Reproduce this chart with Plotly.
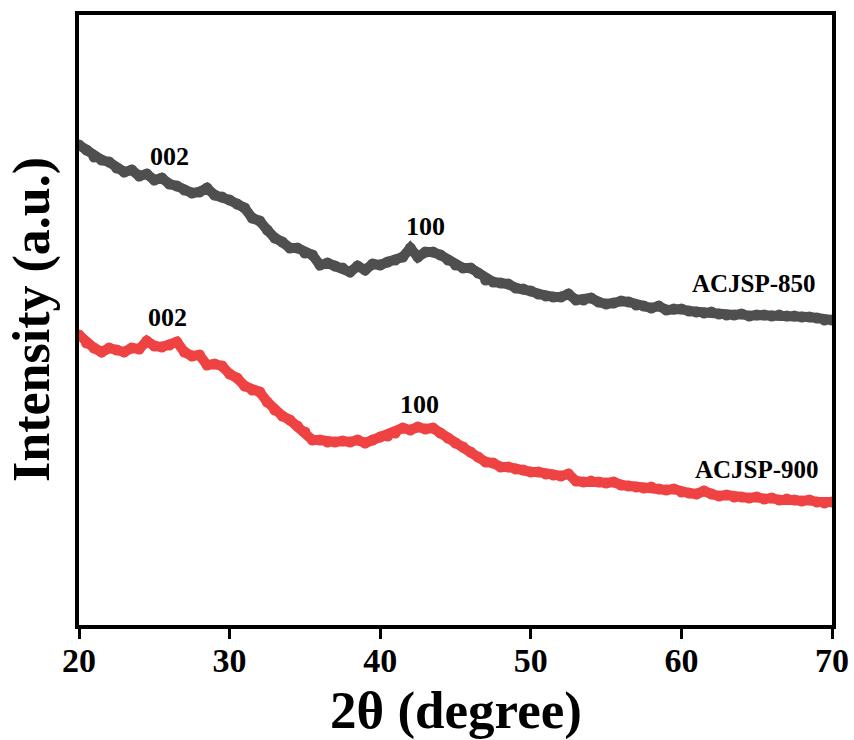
import numpy as np
import plotly.graph_objects as go

# 2-theta scan positions (degrees)
two_theta = np.arange(20.0, 70.01, 0.5)

# Intensity (a.u.), ACJSP-850 (offset upper trace)
acjsp_850 = [480, 475, 468, 465, 463, 457, 453, 455, 449, 451,
             445, 447, 441, 439, 435, 432, 433, 437, 430, 428,
             425, 421, 417, 407, 404, 395, 387, 383, 377, 377,
             372, 370, 360, 362, 359, 357, 353, 359, 355, 361,
             360, 363, 365, 368, 377, 368, 373, 373, 370, 365,
             360, 357, 357, 352, 345, 343, 342, 341, 337, 336,
             334, 331, 329, 328, 328, 331, 325, 325, 327, 323,
             321, 322, 324, 323, 320, 319, 317, 319, 315, 316,
             316, 314, 313, 312, 313, 311, 310, 310, 311, 309,
             310, 310, 309, 310, 309, 309, 308, 308, 307, 305,
             305]

# Intensity (a.u.), ACJSP-900 (lower trace)
acjsp_900 = [290, 282, 277, 273, 277, 275, 273, 277, 276, 284,
             279, 278, 280, 283, 273, 269, 270, 260, 261, 259,
             251, 247, 239, 235, 233, 223, 215, 209, 205, 199,
             193, 185, 185, 183, 183, 184, 183, 185, 182, 185,
             188, 189, 192, 197, 195, 198, 196, 197, 192, 187,
             182, 178, 173, 168, 163, 162, 158, 158, 156, 155,
             153, 153, 151, 150, 149, 151, 144, 143, 144, 143,
             142, 143, 140, 139, 138, 137, 138, 136, 135, 136,
             133, 132, 131, 134, 131, 129, 130, 128, 128, 127,
             128, 126, 127, 125, 126, 125, 124, 125, 123, 122,
             123]

x_ticks = [20, 30, 40, 50, 60, 70]

GRAY = "#4f4f4f"
RED = "#ef4242"
FONT = "Liberation Serif"

fig = go.Figure()
for y, color in ((acjsp_850, GRAY), (acjsp_900, RED)):
    fig.add_trace(go.Scatter(
        x=two_theta, y=y, mode="lines+markers",
        line=dict(color=color, width=10),
        marker=dict(color=color, size=11),
        showlegend=False, hoverinfo="skip", cliponaxis=True,
    ))

labels = [
    ("002", 26.0, 469, 26),
    ("100", 43.0, 399, 26),
    ("002", 25.9, 308, 26),
    ("100", 42.6, 221, 26),
    ("ACJSP-850", 64.8, 342, 25),
    ("ACJSP-900", 65.0, 156, 25),
]
for text, x, y, size in labels:
    fig.add_annotation(
        x=x, y=y, text=f"<b>{text}</b>", showarrow=False,
        font=dict(family=FONT, size=size, color="black"),
        xanchor="center", yanchor="middle",
    )

# axis titles
fig.add_annotation(
    xref="paper", yref="paper", x=0.5, y=0, yanchor="top", yshift=-54,
    text="<b>2θ (degree)</b>", showarrow=False,
    font=dict(family=FONT, size=53, color="black"),
)
fig.add_annotation(
    xref="paper", yref="paper", x=0, y=0.5, xanchor="right", xshift=-16,
    text="<b>Intensity (a.u.)</b>", textangle=-90, showarrow=False,
    font=dict(family=FONT, size=52, color="black"),
)

fig.update_xaxes(
    range=[20, 70], tickvals=x_ticks, ticktext=[f"<b>{t}</b>" for t in x_ticks],
    ticks="outside", ticklen=10, tickwidth=3, tickcolor="black",
    ticklabelstandoff=-8,
    showline=True, linewidth=4, linecolor="black", mirror=True,
    showgrid=False, zeroline=False, automargin=False,
    tickfont=dict(family=FONT, size=34, color="black"),
)
fig.update_yaxes(
    range=[0, 610], showticklabels=False, ticks="",
    showline=True, linewidth=4, linecolor="black", mirror=True,
    showgrid=False, zeroline=False, automargin=False,
)
fig.update_layout(
    width=854, height=740,
    margin=dict(l=79, r=22, t=15, b=115),
    plot_bgcolor="white", paper_bgcolor="white",
)

fig.write_html("out.html")
